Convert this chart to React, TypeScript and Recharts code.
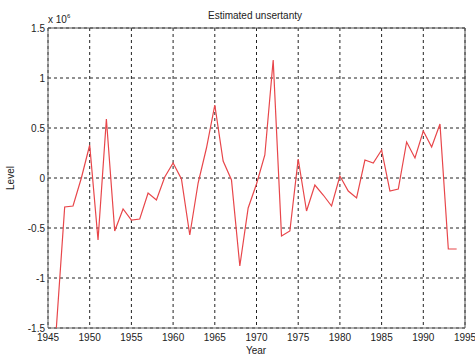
import React from 'react';
import {
  LineChart,
  Line,
  XAxis,
  YAxis,
  CartesianGrid,
  ReferenceLine,
} from 'recharts';

// years and estimated level (x 10^6)
const years = [
  1946, 1947, 1948, 1949, 1950, 1951, 1952, 1953, 1954, 1955,
  1956, 1957, 1958, 1959, 1960, 1961, 1962, 1963, 1964, 1965,
  1966, 1967, 1968, 1969, 1970, 1971, 1972, 1973, 1974, 1975,
  1976, 1977, 1978, 1979, 1980, 1981, 1982, 1983, 1984, 1985,
  1986, 1987, 1988, 1989, 1990, 1991, 1992, 1993, 1994,
];
const levels = [
  -1.5, -0.29, -0.28, 0.0, 0.33, -0.62, 0.59, -0.53, -0.31, -0.42,
  -0.41, -0.15, -0.22, 0.01, 0.15, -0.01, -0.57, -0.05, 0.3, 0.73,
  0.17, -0.02, -0.88, -0.3, -0.06, 0.23, 1.18, -0.58, -0.53, 0.19,
  -0.33, -0.07, -0.17, -0.28, 0.02, -0.13, -0.2, 0.18, 0.15, 0.28,
  -0.13, -0.11, 0.36, 0.2, 0.47, 0.31, 0.54, -0.71, -0.71,
];

const xTicks = [1945, 1950, 1955, 1960, 1965, 1970, 1975, 1980, 1985, 1990, 1995];
const yTicks = [-1.5, -1, -0.5, 0, 0.5, 1, 1.5];
const xDomain: [number, number] = [1945, 1995];
const yDomain: [number, number] = [-1.5, 1.5];

const data = years.map((year, i) => ({ year, level: levels[i] }));

const FONT = '"Liberation Sans", Arial, sans-serif';
const tickStyle = { fontSize: 10, fill: '#222', fontFamily: FONT };

export default function App() {
  return (
    <div style={{ position: 'absolute', left: 0, top: 0, width: 475, height: 358, background: '#fff' }}>
      <LineChart
        width={475}
        height={358}
        data={data}
        margin={{ top: 28, right: 10, bottom: 0, left: 0 }}
      >
        <CartesianGrid stroke="#222" strokeDasharray="3 3" />
        <XAxis
          dataKey="year"
          type="number"
          domain={xDomain}
          ticks={xTicks}
          height={30}
          tickLine={false}
          tickSize={3}
          tickMargin={3}
          axisLine={false}
          tick={tickStyle}
          interval={0}
        />
        <YAxis
          type="number"
          domain={yDomain}
          ticks={yTicks}
          width={48}
          tickLine={false}
          tickSize={2}
          tickMargin={1}
          axisLine={false}
          tick={tickStyle}
          interval={0}
          allowDataOverflow
        />
        {/* frame */}
        <ReferenceLine x={xDomain[0]} stroke="#666" strokeWidth={1} />
        <ReferenceLine x={xDomain[1]} stroke="#555" strokeWidth={1} />
        <ReferenceLine y={yDomain[0]} stroke="#666" strokeWidth={1} />
        <ReferenceLine y={yDomain[1]} stroke="#555" strokeWidth={1} />
        <Line
          type="linear"
          dataKey="level"
          stroke="#e8464a"
          strokeWidth={1.2}
          dot={false}
          isAnimationActive={false}
        />
        <text x={255} y={19} textAnchor="middle" fontSize={10} fontFamily={FONT} fill="#222">
          Estimated unsertanty
        </text>
        <text x={48} y={23} fontSize={10} fontFamily={FONT} fill="#222">
          x 10
          <tspan dy={-5} fontSize={6}>6</tspan>
        </text>
        <text x={256} y={354} textAnchor="middle" fontSize={10} fontFamily={FONT} fill="#222">
          Year
        </text>
        <text
          x={14}
          y={178}
          textAnchor="middle"
          fontSize={10}
          fontFamily={FONT}
          fill="#222"
          transform="rotate(-90 14 178)"
        >
          Level
        </text>
      </LineChart>
    </div>
  );
}
